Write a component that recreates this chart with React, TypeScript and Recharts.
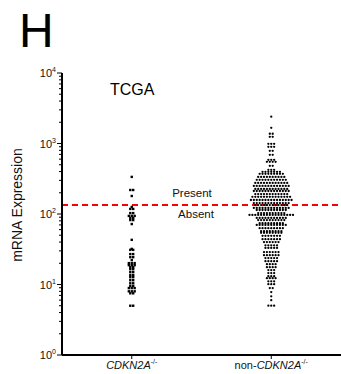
import { ReferenceLine, Scatter, ScatterChart, XAxis, YAxis } from "recharts";

// [expression value, number of samples in that beeswarm row]
const cdknRows: [number, number][] = [
  [336, 1], [219, 2], [180, 1], [126, 1], [118, 2], [103, 2], [94, 3],
  [88, 2], [82, 2], [72, 1], [43, 1], [32, 1], [31, 2], [27, 2], [24.4, 2],
  [22.2, 1], [20.1, 3], [18.8, 3], [17.6, 2], [16.5, 2], [15, 2], [13.6, 2],
  [12.7, 2], [11.5, 2], [10.4, 2], [9.5, 2], [8.9, 3], [8, 3], [7.5, 2], [5, 2],
];

const nonRows: [number, number][] = [
  [2400, 1], [1670, 1], [1374, 2], [1245, 2], [990, 3], [897, 3], [787, 2],
  [691, 2], [586, 3], [549, 4], [482, 2], [423, 3], [396, 7], [371, 9],
  [336, 10], [305, 11], [276, 12], [250, 13], [227, 12], [212, 13], [192, 12],
  [175, 14], [158, 15], [143, 13], [134, 12], [122, 13], [114, 11], [103, 10],
  [97, 16], [88, 11], [82, 10], [74, 9], [70, 11], [63, 9], [57, 8], [54, 8],
  [49, 7], [44, 7], [40, 6], [36, 5], [33, 5], [28.8, 6], [26.1, 6],
  [23.7, 5], [21.4, 5], [19.4, 4], [17.6, 4], [16, 3], [14.5, 3], [13.1, 3],
  [12.3, 4], [11.1, 3], [10.1, 3], [8.9, 2], [7.8, 1], [6.8, 1], [6, 1], [5, 3],
];

const groups = ["CDKN2A", "non-CDKN2A"];
const groupCenters = [0.5, 1.5];
const threshold = 134;

const majorTicks = [1, 10, 100, 1000, 10000];
const yTicks = [1, 2, 3, 4, 5, 6, 7, 8, 9].flatMap((m) =>
  [1, 10, 100, 1000].map((p) => m * p)
).concat([10000]).sort((a, b) => a - b);

const W = 341;
const H = 374;
const PLOT_LEFT = 62;
const PLOT_W = W - PLOT_LEFT;
const DOT_GAP = 2.9 / (PLOT_W / 2); // px -> x units

function swarm(rows: [number, number][], center: number) {
  return rows.flatMap(([value, count]) =>
    Array.from({ length: count }, (_, i) => ({
      x: center + (i - (count - 1) / 2) * DOT_GAP,
      y: value,
    }))
  );
}

const cdknPoints = swarm(cdknRows, groupCenters[0]);
const nonPoints = swarm(nonRows, groupCenters[1]);

const font = "Liberation Sans, Arial, sans-serif";

function YTick(props: any) {
  const { x, y, payload } = props;
  const v = payload.value as number;
  const exp = Math.round(Math.log10(v));
  const major = majorTicks.includes(v);
  return (
    <g>
      <line x1={x - (major ? 5 : 3)} x2={x} y1={y} y2={y} stroke="#000" strokeWidth={1} />
      {major && (
        <text x={x - 6} y={y + 4} textAnchor="end" fontSize={11} fontFamily={font} fill="#111">
          10
          <tspan fontSize={7} dy={-5}>{exp}</tspan>
        </text>
      )}
    </g>
  );
}

function XTick(props: any) {
  const { x, y, payload } = props;
  const idx = groupCenters.indexOf(payload.value);
  return (
    <g>
      <line x1={x} x2={x} y1={y} y2={y + 4} stroke="#000" strokeWidth={1} />
      <text x={x} y={y + 14} textAnchor="middle" fontSize={11} fontFamily={font} fill="#111">
        {idx === 1 && <tspan>non-</tspan>}
        <tspan fontStyle="italic">CDKN2A</tspan>
        <tspan fontSize={7} dy={-5}>-/-</tspan>
      </text>
    </g>
  );
}

const squareDot = (props: any) => (
  <rect x={props.cx - 1.2} y={props.cy - 1.2} width={2.4} height={2.4} fill="#000" />
);
const roundDot = (props: any) => (
  <circle cx={props.cx} cy={props.cy} r={1.15} fill="#000" />
);

export default function App() {
  return (
    <div style={{ position: "absolute", left: 0, top: 0, width: W, height: H, background: "#fff" }}>
      <ScatterChart width={W} height={H} margin={{ top: 73, right: 0, bottom: 0, left: 0 }}>
        <text x={19} y={47} fontSize={48} fontFamily={font} fill="#000">H</text>
        <text x={110} y={95} fontSize={16} fontFamily={font} fill="#000">TCGA</text>
        <text
          x={22}
          y={205}
          transform="rotate(-90 22 205)"
          textAnchor="middle"
          fontSize={14}
          fontFamily={font}
          fill="#111"
        >
          mRNA Expression
        </text>
        <text x={192} y={197} textAnchor="middle" fontSize={11.5} fontFamily={font} fill="#111">Present</text>
        <text x={196} y={218} textAnchor="middle" fontSize={11.5} fontFamily={font} fill="#111">Absent</text>
        <XAxis
          type="number"
          dataKey="x"
          domain={[0, 2]}
          ticks={groupCenters}
          tick={<XTick />}
          tickLine={false}
          tickSize={0}
          tickMargin={0}
          height={19}
          axisLine={{ stroke: "#000", strokeWidth: 2 }}
          allowDataOverflow
        />
        <YAxis
          type="number"
          dataKey="y"
          scale="log"
          domain={[1, 10000]}
          ticks={yTicks}
          interval={0}
          tick={<YTick />}
          tickLine={false}
          tickSize={0}
          tickMargin={0}
          width={PLOT_LEFT}
          axisLine={{ stroke: "#000", strokeWidth: 2 }}
          allowDataOverflow
        />
        <Scatter name={groups[0]} data={cdknPoints} shape={squareDot} isAnimationActive={false} />
        <Scatter name={groups[1]} data={nonPoints} shape={roundDot} isAnimationActive={false} />
        <ReferenceLine y={threshold} stroke="#ff0000" strokeWidth={2} strokeDasharray="6 4" />
      </ScatterChart>
    </div>
  );
}
